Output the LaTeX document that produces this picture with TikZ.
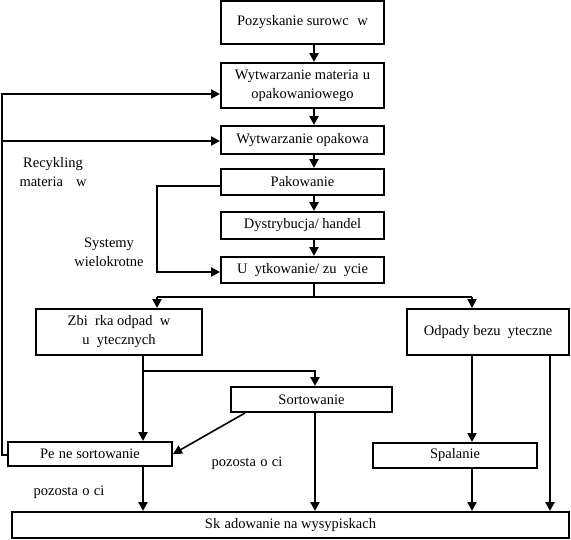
\documentclass[tikz,border=0pt]{standalone}
\usepackage{fontspec}
\setmainfont{Liberation Serif}
\usetikzlibrary{arrows.meta}
\newcommand{\mygap}[1][0.5em]{\hspace{#1}}
\begin{document}
\begin{tikzpicture}[x=1pt,y=-1pt,
  font=\fontsize{14.5}{19}\selectfont,
  box/.style={draw, line width=2pt, inner sep=0pt, align=center},
  ln/.style={line width=2.3pt},
  arr/.style={line width=2.3pt, -{Triangle[length=9pt,width=9pt]}},
  lbl/.style={align=center, inner sep=0pt}]
\useasboundingbox (0,0) rectangle (571,539);
% boxes
\node[box, minimum width=163pt, minimum height=43pt] (b1) at (302.5,22.5) {Pozyskanie surowc\mygap[0.6em]w};
\node[box, minimum width=163pt, minimum height=45pt] (b2) at (302.5,85.5) {Wytwarzanie materia\mygap[0.3em]u\\opakowaniowego};
\node[box, minimum width=163pt, minimum height=28pt] (b3) at (302.5,140) {Wytwarzanie opakowa};
\node[box, minimum width=163pt, minimum height=26pt] (b4) at (302.5,182) {Pakowanie};
\node[box, minimum width=163pt, minimum height=27pt] (b5) at (302.5,225.5) {Dystrybucja/ handel};
\node[box, minimum width=163pt, minimum height=26pt] (b6) at (302.5,270) {U\mygap ytkowanie/ zu\mygap ycie};
\node[box, minimum width=166pt, minimum height=46pt] (zb) at (119,332) {Zbi\mygap rka odpad\mygap w\\u\mygap ytecznych};
\node[box, minimum width=162pt, minimum height=46pt] (od) at (488,332) {Odpady bezu\mygap yteczne};
\node[box, minimum width=161pt, minimum height=25pt] (so) at (311.5,399.5) {Sortowanie};
\node[box, minimum width=164pt, minimum height=24pt] (pe) at (90,454) {Pe\mygap[0.3em]ne sortowanie};
\node[box, minimum width=164pt, minimum height=25pt] (sp) at (455,455.5) {Spalanie};
\node[box, minimum width=557pt, minimum height=26pt] (sk) at (290.5,525) {Sk\mygap[0.3em]adowanie na wysypiskach};
% labels
\node[lbl] (rec) at (53,172) {Recykling\\materia\mygap[0.9em]w};
\node[lbl] (sys) at (109,252) {Systemy\\wielokrotne};
\node[lbl] (poz1) at (247,463) {pozosta\mygap[0.3em]o\mygap[0.3em]ci};
\node[lbl] (poz2) at (69,492) {pozosta\mygap[0.3em]o\mygap[0.3em]ci};
% main chain
\coordinate (cx) at (314,0);
\draw[arr] (b1.south -| cx) -- (b2.north -| cx);
\draw[arr] (b2.south -| cx) -- (b3.north -| cx);
\draw[arr] (b3.south -| cx) -- (b4.north -| cx);
\draw[arr] (b4.south -| cx) -- (b5.north -| cx);
\draw[arr] (b5.south -| cx) -- (b6.north -| cx);
% split
\coordinate (sp0) at (314,297);
\coordinate (lb) at (157,297);
\coordinate (rb) at (472,297);
\draw[ln] (b6.south -| cx) -- (sp0);
\draw[ln] (lb) -- (rb);
\draw[arr] (lb) -- (zb.north -| lb);
\draw[arr] (rb) -- (od.north -| rb);
% reusable systems
\coordinate (sa) at (157,186);
\coordinate (sb) at (157,272);
\draw[arr] (b4.west |- sa) -- (sa) -- (sb) -- (b6.west |- sb);
% recycling feedback
\coordinate (fa) at (2,455);
\coordinate (fb) at (2,94);
\coordinate (fc) at (2,141);
\draw[arr] (pe.west |- fa) -- (fa) -- (fb) -- (b2.west |- fb);
\draw[arr] (fc) -- (b3.west |- fc);
% collection
\coordinate (za) at (143,0);
\coordinate (zs) at (143,371);
\coordinate (zt) at (315,371);
\draw[arr] (zb.south -| za) -- (pe.north -| za);
\draw[arr] (zs) -- (zt) -- (so.north -| zt);
\draw[arr] (so.south -| zt) -- (sk.north -| zt);
\coordinate (dg) at (245,0);
\draw[arr, line width=1.6pt] (so.south -| dg) -- (pe.east);
\draw[arr] (pe.south -| za) -- (sk.north -| za);
% useless waste
\draw[arr] (od.south -| rb) -- (sp.north -| rb);
\draw[arr] (sp.south -| rb) -- (sk.north -| rb);
\coordinate (oc) at (550,0);
\draw[arr] (od.south -| oc) -- (sk.north -| oc);
\end{tikzpicture}
\end{document}
